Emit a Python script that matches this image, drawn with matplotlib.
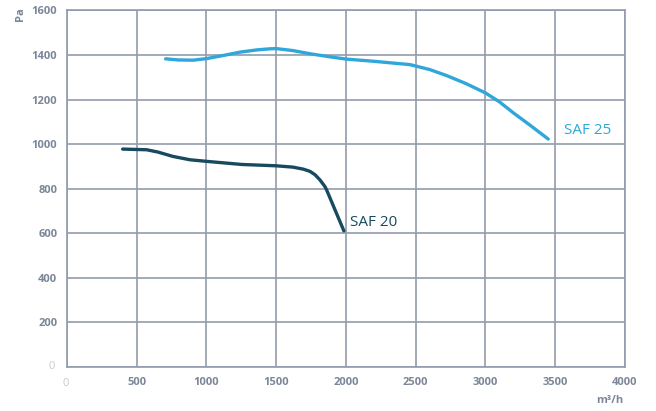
import matplotlib
matplotlib.use("Agg")
import matplotlib.pyplot as plt

plt.rcParams['font.family'] = ['Open Sans', 'DejaVu Sans']

# Данные (расход м³/ч, давление Па)
saf25_flow = [707, 800, 905, 1000, 1120, 1240, 1360, 1455, 1500, 1620, 1750, 1885, 2000,
              2200, 2459, 2600, 2721, 2860, 3000, 3100, 3199, 3320, 3450]
saf25_pa = [1383, 1378, 1377, 1384, 1398, 1413, 1423, 1428, 1429, 1420, 1405, 1392, 1382,
            1372, 1357, 1335, 1308, 1272, 1230, 1190, 1141, 1085, 1023]

saf20_flow = [399, 571, 650, 760, 882, 1000, 1252, 1500, 1620, 1694, 1742, 1778, 1813, 1849,
              1861, 1921, 1985]
saf20_pa = [978, 975, 965, 945, 930, 923, 909, 903, 897, 888, 878, 863, 840, 810,
            795, 706, 611]

x_ticks = [0, 500, 1000, 1500, 2000, 2500, 3000, 3500, 4000]
y_ticks = [0, 200, 400, 600, 800, 1000, 1200, 1400, 1600]

c25 = '#2fa7dc'
c20 = '#174a5f'
grid_c = '#929cad'
tick_c = '#7b8698'

fig = plt.figure(figsize=(6.56, 4.11), dpi=100)
ax = fig.add_axes([0.1021, 0.107, 0.8506, 0.8675])

ax.plot(saf25_flow, saf25_pa, color=c25, lw=2.4, solid_capstyle='round', solid_joinstyle='round')
ax.plot(saf20_flow, saf20_pa, color=c20, lw=2.4, solid_capstyle='round', solid_joinstyle='round')

ax.text(3565, 1060, 'SAF 25', color=c25, fontsize=11, ha='left', va='center')
ax.text(2030, 650, 'SAF 20', color=c20, fontsize=11, ha='left', va='center')

ax.set_xlim(0, 4000)
ax.set_ylim(0, 1600)
ax.set_xticks(x_ticks)
ax.set_yticks(y_ticks)
ax.set_xticklabels([''] + [str(v) for v in x_ticks[1:]])
ax.set_yticklabels([''] + [str(v) for v in y_ticks[1:]])
ax.grid(True, color=grid_c, lw=1.2)
ax.set_axisbelow(True)
for s in ax.spines.values():
    s.set_color(grid_c)
    s.set_linewidth(1.2)
ax.tick_params(length=0, colors=tick_c, labelsize=8, pad=7)
for lbl in ax.get_xticklabels() + ax.get_yticklabels():
    lbl.set_fontweight('bold')

# бледные нули в углу
fig.text(52 / 656, 1 - 366 / 411, '0', color='#c4c9d2', fontsize=8, ha='center', va='center')
fig.text(66 / 656, 1 - 383 / 411, '0', color='#c4c9d2', fontsize=8, ha='center', va='center')

fig.text(610 / 656, 1 - 400 / 411, 'm³/h', color=tick_c, fontsize=8, fontweight='bold',
         ha='center', va='center')
fig.text(20 / 656, 1 - 14 / 411, 'Pa', color=tick_c, fontsize=8, fontweight='bold',
         rotation=90, ha='center', va='center')

fig.savefig('out.png', dpi=100)
